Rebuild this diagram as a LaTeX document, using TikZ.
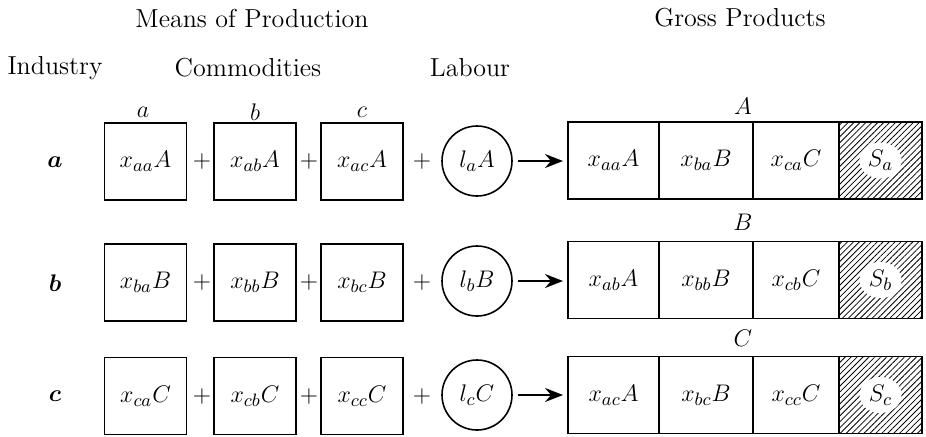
\documentclass[tikz,border=0pt]{standalone}
\usepackage{amsmath}
\usetikzlibrary{arrows.meta,shapes.geometric,patterns.meta}
\begin{document}
\begin{tikzpicture}[x=0.5pt,y=-0.5pt,
  every node/.style={font=\fontsize{13}{15}\selectfont},
  mpbox/.style={draw,line width=0.9pt,minimum width=41pt,minimum height=38.5pt,inner sep=0pt,outer sep=0pt},
  labcirc/.style={draw,circle,line width=0.8pt,minimum size=35pt,inner sep=0pt},
  gcell/.style={draw,line width=0.7pt,minimum height=38.5pt,inner sep=0pt,outer sep=0pt},
  hatchcell/.style={gcell,pattern={Lines[angle=45,distance=2.1pt,line width=0.4pt]}},
  sblob/.style={ellipse,fill=white,minimum width=21pt,minimum height=18pt,inner sep=0pt},
  flow/.style={line width=0.9pt,-{Stealth[length=9pt,width=7pt,inset=3pt]},shorten <=2.5pt,shorten >=2.5pt},
  plusop/.style={inner sep=0pt}
]
\useasboundingbox (0,0) rectangle (926,436);

% headings
\node (hmp) at (252,18) {Means of Production};
\node (hgp) at (740,18) {Gross Products};
\node (hind) at (55,68) {Industry};
\node (hcom) at (248,68) {Commodities};
\node (hlab) at (470,68) {Labour};
\node (ca) at (143,112) {$a$};
\node (cb) at (255,112) {$b$};
\node (cc) at (362,112) {$c$};

% row a
\node (ra) at (55,162) {$\boldsymbol{a}$};
\node[mpbox] (a1) at (145.5,161.5) {$x_{aa}A$};
\node[plusop] (pa1) at (202,161.5) {$+$};
\node[mpbox] (a2) at (255,161.5) {$x_{ab}A$};
\node[plusop] (pa2) at (309,161.5) {$+$};
\node[mpbox] (a3) at (362,161.5) {$x_{ac}A$};
\node[plusop] (pa3) at (422,161.5) {$+$};
\node[labcirc] (la) at (477,161) {$l_aA$};
\node (gA) at (743,106) {$A$};
\node[gcell,minimum width=45.5pt] (ga1) at (613.5,160.5) {$x_{aa}A$};
\node[gcell,minimum width=47pt] (ga2) at (706,160.5) {$x_{ba}B$};
\node[gcell,minimum width=43pt] (ga3) at (796,160.5) {$x_{ca}C$};
\node[hatchcell,minimum width=41.5pt] (ga4) at (880.5,160.5) {};
\node[sblob] (sa) at (ga4.center) {$S_a$};
\draw[flow] (la.east) -- (la.east -| ga1.west);

% row b
\node (rb) at (55,283) {$\boldsymbol{b}$};
\node[mpbox] (b1) at (145.5,282.5) {$x_{ba}B$};
\node[plusop] (pb1) at (202,282.5) {$+$};
\node[mpbox] (b2) at (255,282.5) {$x_{bb}B$};
\node[plusop] (pb2) at (309,282.5) {$+$};
\node[mpbox] (b3) at (362,282.5) {$x_{bc}B$};
\node[plusop] (pb3) at (422,282.5) {$+$};
\node[labcirc] (lb) at (477,281) {$l_bB$};
\node (gB) at (743,222) {$B$};
\node[gcell,minimum width=45.5pt] (gb1) at (613.5,280) {$x_{ab}A$};
\node[gcell,minimum width=47pt] (gb2) at (706,280) {$x_{bb}B$};
\node[gcell,minimum width=43pt] (gb3) at (796,280) {$x_{cb}C$};
\node[hatchcell,minimum width=41.5pt] (gb4) at (880.5,280) {};
\node[sblob] (sb) at (gb4.center) {$S_b$};
\draw[flow] (lb.east) -- (lb.east -| gb1.west);

% row c
\node (rc) at (55,396) {$\boldsymbol{c}$};
\node[mpbox] (c1) at (145.5,396) {$x_{ca}C$};
\node[plusop] (pc1) at (202,396) {$+$};
\node[mpbox] (c2) at (255,396) {$x_{cb}C$};
\node[plusop] (pc2) at (309,396) {$+$};
\node[mpbox] (c3) at (362,396) {$x_{cc}C$};
\node[plusop] (pc3) at (422,396) {$+$};
\node[labcirc] (lc) at (477,395) {$l_cC$};
\node (gC) at (743,338) {$C$};
\node[gcell,minimum width=45.5pt] (gc1) at (613.5,395) {$x_{ac}A$};
\node[gcell,minimum width=47pt] (gc2) at (706,395) {$x_{bc}B$};
\node[gcell,minimum width=43pt] (gc3) at (796,395) {$x_{cc}C$};
\node[hatchcell,minimum width=41.5pt] (gc4) at (880.5,395) {};
\node[sblob] (sc) at (gc4.center) {$S_c$};
\draw[flow] (lc.east) -- (lc.east -| gc1.west);
\end{tikzpicture}
\end{document}
